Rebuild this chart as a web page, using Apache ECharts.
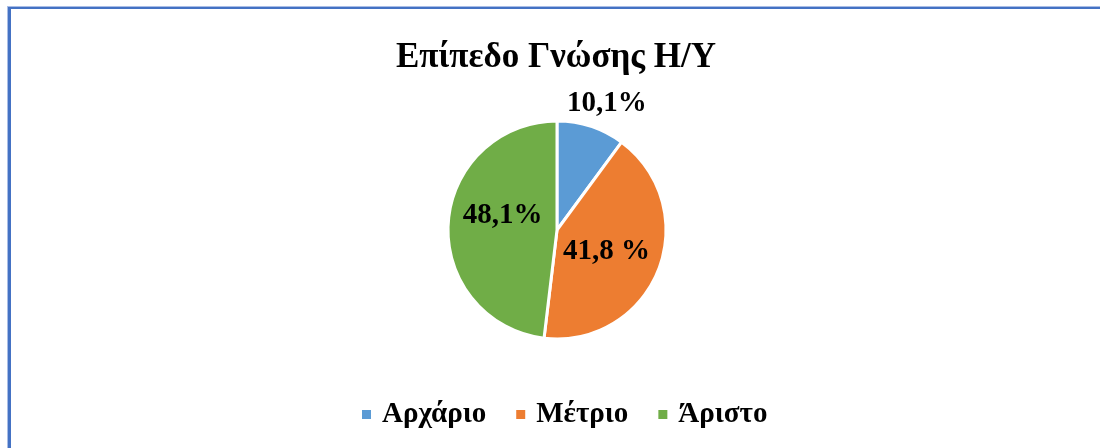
<!DOCTYPE html>
<html>
<head>
<meta charset="utf-8">
<script src="https://cdn.jsdelivr.net/npm/echarts@6/dist/echarts.min.js"></script>
<style>
  html, body { margin: 0; padding: 0; background: #fff; overflow: hidden; }
  #frame { position: absolute; left: 8px; top: 7px; width: 1200px; height: 600px;
           border-left: 3px solid #4472C4; border-top: 2px solid #4472C4; box-shadow: -1px -1px 0 #a9bde6; }
  #chart { position: absolute; left: 0; top: 0; width: 1100px; height: 448px; }
</style>
</head>
<body>
<div id="frame"></div>
<div id="chart"></div>
<script>
// δεδομένα
var categories = ['Αρχάριο', 'Μέτριο', 'Άριστο']
var values = [10.1, 41.8, 48.1]
var labelTexts = ['10,1%', '41,8 %', '48,1%']
var colors = ['#5B9BD5', '#ED7D31', '#70AD47']

var labelOffsets = [[32, -72], [-4, 0], [3, -11]]

var dataset = []
for (var i = 0; i < categories.length; i++) {
  dataset.push({
    name: categories[i],
    value: values[i],
    itemStyle: { color: colors[i] },
    label: { formatter: labelTexts[i], offset: labelOffsets[i] }
  })
}

var dom = document.getElementById('chart')
var myChart = echarts.init(dom)

var option = {
  animation: false,
  title: {
    text: 'Επίπεδο Γνώσης Η/Υ',
    left: 391,
    top: 35,
    textStyle: {
      fontFamily: 'Liberation Serif',
      fontWeight: 'bold',
      fontSize: 35,
      color: '#000'
    }
  },
  legend: {
    top: 395,
    left: 355,
    icon: 'rect',
    itemWidth: 11,
    itemHeight: 11,
    itemGap: 28,
    data: categories,
    textStyle: {
      fontFamily: 'Liberation Serif',
      fontWeight: 'bold',
      fontSize: 29,
      color: '#000',
      padding: [0, 0, 0, 5]
    }
  },
  series: [
    {
      type: 'pie',
      radius: 109,
      center: [557, 230],
      startAngle: 90,
      clockwise: true,
      itemStyle: {
        borderColor: '#fff',
        borderWidth: 3
      },
      label: {
        position: 'inside',
        fontFamily: 'Liberation Serif',
        fontWeight: 'bold',
        fontSize: 29,
        color: '#000'
      },
      labelLine: { show: false },
      emphasis: { disabled: true },
      data: dataset
    }
  ]
}
myChart.setOption(option)
</script>
</body>
</html>
